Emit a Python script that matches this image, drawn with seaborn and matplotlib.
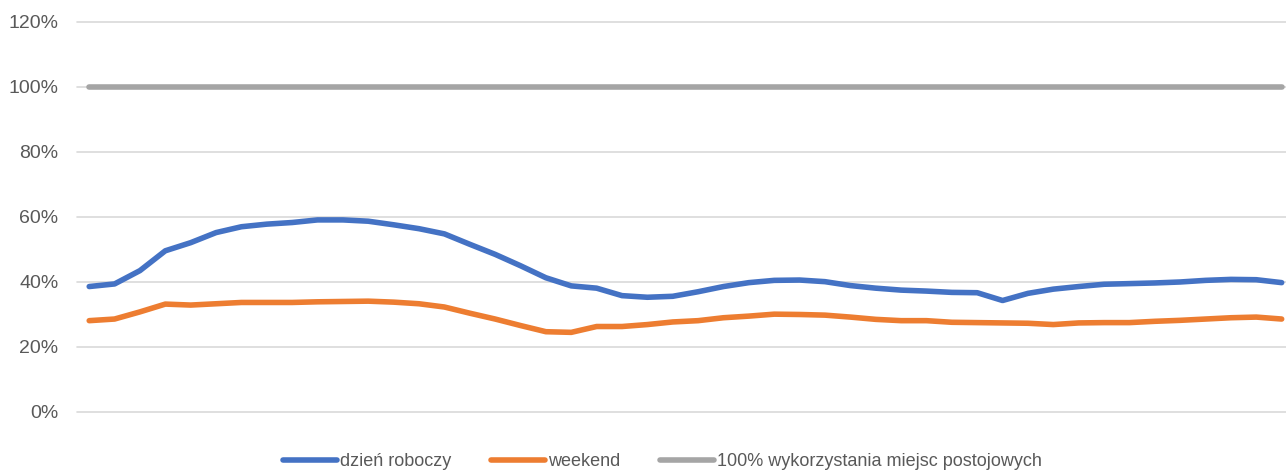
import matplotlib
matplotlib.use("Agg")
import matplotlib.pyplot as plt
from matplotlib.ticker import FuncFormatter
import numpy as np
import pandas as pd
import seaborn as sns

# occupancy per time slot, in percent (48 slots, no axis labels on the chart)
workday = [38.6, 39.4, 43.5, 49.6, 52.1, 55.2, 57.0, 57.8, 58.3, 59.1,
           59.1, 58.7, 57.6, 56.4, 54.8, 51.6, 48.5, 45.0, 41.3, 38.8,
           38.1, 35.8, 35.3, 35.6, 37.0, 38.6, 39.8, 40.5, 40.6, 40.1,
           38.9, 38.1, 37.5, 37.2, 36.8, 36.7, 34.3, 36.5, 37.8, 38.6,
           39.3, 39.5, 39.7, 40.0, 40.5, 40.8, 40.7, 39.8]
weekend = [28.1, 28.6, 30.8, 33.2, 32.9, 33.3, 33.7, 33.7, 33.7, 33.9,
           34.0, 34.1, 33.8, 33.3, 32.3, 30.4, 28.6, 26.6, 24.7, 24.5,
           26.3, 26.3, 26.9, 27.7, 28.1, 29.0, 29.5, 30.1, 30.0, 29.8,
           29.2, 28.5, 28.1, 28.1, 27.6, 27.5, 27.4, 27.3, 26.9, 27.4,
           27.5, 27.5, 27.9, 28.2, 28.6, 29.0, 29.2, 28.6]
capacity = [100.0] * 48

labels = ["dzień roboczy", "weekend", "100% wykorzystania miejsc postojowych"]
colors = ["#4472C4", "#ED7D31", "#A5A5A5"]
y_ticks = [0, 20, 40, 60, 80, 100, 120]

slots = np.arange(len(workday))
df = pd.DataFrame({
    "slot": np.tile(slots, 3),
    "value": workday + weekend + capacity,
    "series": np.repeat(labels, len(slots)),
})

sns.set_style("white")
plt.rcParams["font.family"] = ["Liberation Sans Narrow", "Liberation Sans", "DejaVu Sans"]

fig = plt.figure(figsize=(12.86, 4.73), dpi=100)
ax = fig.add_axes([0.0595, 0.129, 0.947, 0.8245])

sns.lineplot(data=df, x="slot", y="value", hue="series", hue_order=labels,
             palette=colors, linewidth=4.0, ax=ax, legend=True,
             solid_capstyle="round", solid_joinstyle="round")

ax.set_xlim(-0.5, len(slots) - 0.5)
ax.set_ylim(0, 120)
ax.set_yticks(y_ticks)
ax.yaxis.set_major_formatter(FuncFormatter(lambda v, _: f"{v:.0f}%"))
ax.set_xticks([])
ax.set_xlabel("")
ax.set_ylabel("")
ax.grid(axis="y", color="#D9D9D9", linewidth=1.2)
for gl in ax.get_ygridlines():
    gl.set_clip_on(False)
ax.set_axisbelow(True)
for s in ax.spines.values():
    s.set_visible(False)
ax.tick_params(axis="y", length=0, pad=13, labelsize=14, labelcolor="#595959")

handles, _ = ax.get_legend_handles_labels()
for h in handles:
    h.set_linewidth(4.0)
    h.set_solid_capstyle("round")
ax.legend(handles, labels, loc="center", bbox_to_anchor=(0.481, -0.128),
          ncol=3, frameon=False, fontsize=13, handlelength=3.0,
          handletextpad=0.15, columnspacing=2.2, labelcolor="#595959")

fig.savefig("out.png", dpi=100)
